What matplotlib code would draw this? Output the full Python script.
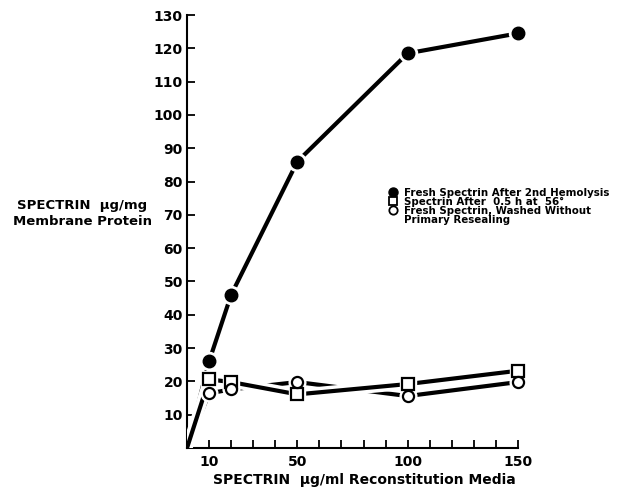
import matplotlib
matplotlib.use("Agg")
import matplotlib.pyplot as plt
import matplotlib.patheffects as pe
from matplotlib.lines import Line2D

# spectrin concentration in reconstitution media (ug/ml)
conc = [0, 10, 20, 50, 100, 150]
# spectrin bound (ug/mg membrane protein)
fresh_2nd = [0, 26, 46, 86, 118.5, 124.5]
heated_56 = [0, 20.6, 19.8, 16.1, 19.2, 23.2]
washed = [0, 16.4, 17.6, 19.8, 15.6, 19.8]

labels = ["Fresh Spectrin After 2nd Hemolysis",
          "Spectrin After  0.5 h at  56\u00b0",
          "Fresh Spectrin, Washed Without",
          "Primary Resealing"]

plt.rcParams['font.family'] = ['DejaVu Sans']

fig = plt.figure(figsize=(6.18, 4.99), dpi=100)
ax = fig.add_axes([0.3026, 0.1022, 0.5356, 0.8677])

lw = 3.0
# lines (washed first, heated on top with a white halo so crossings break the other line)
ax.plot(conc, fresh_2nd, color='black', lw=lw, solid_capstyle='butt', zorder=2)
ax.plot(conc, washed, color='black', lw=lw, solid_capstyle='butt', zorder=2)
ax.plot(conc, heated_56, color='black', lw=lw, solid_capstyle='butt', zorder=3,
        path_effects=[pe.Stroke(linewidth=lw + 5, foreground='white'), pe.Normal()])

# white halos around markers so segments stop short of them
ax.plot(conc[1:], fresh_2nd[1:], 'o', ms=13, color='white', zorder=4, clip_on=False)
ax.plot(conc[1:], heated_56[1:], 's', ms=12, color='white', zorder=4, clip_on=False)
ax.plot(conc[1:], washed[1:], 'o', ms=12, color='white', zorder=4, clip_on=False)

ax.plot(conc[1:], fresh_2nd[1:], 'o', ms=9, color='black', zorder=5, clip_on=False)
ax.plot(conc[1:], heated_56[1:], 's', ms=8, mfc='white', mec='black', mew=1.6,
        zorder=5, clip_on=False)
ax.plot(conc[1:], washed[1:], 'o', ms=8, mfc='white', mec='black', mew=1.6,
        zorder=5, clip_on=False)

ax.set_xlim(0, 150)
ax.set_ylim(0, 130)
for s in ['top', 'right']:
    ax.spines[s].set_visible(False)
for s in ['left', 'bottom']:
    ax.spines[s].set_linewidth(1.5)

ax.set_yticks(range(10, 131, 10))
ax.set_xticks([10, 50, 100, 150])
ax.set_xticks([20, 30, 40, 60, 70, 80, 90, 110, 120, 130, 140], minor=True)
ax.tick_params(axis='both', which='both', direction='in', length=5.5, width=1.3)
ax.tick_params(axis='y', pad=3)
ax.tick_params(axis='x', pad=5)
for t in ax.get_xticklabels() + ax.get_yticklabels():
    t.set_fontsize(10)
    t.set_fontweight('bold')

ax.set_xlabel("SPECTRIN  \u00b5g/ml Reconstitution Media", fontsize=10, fontweight='bold',
              va='center')
ax.xaxis.set_label_coords(0.535, -0.074)
ax.set_ylabel("SPECTRIN  \u00b5g/mg\nMembrane Protein", fontsize=9.5, fontweight='bold',
              rotation=0, ha='center', va='center', multialignment='center',
              linespacing=1.3)
ax.yaxis.set_label_coords(-0.317, 0.5416)

handles = [Line2D([], [], ls='none', marker='o', ms=6.5, color='black'),
           Line2D([], [], ls='none', marker='s', ms=6, mfc='white', mec='black', mew=1.3),
           Line2D([], [], ls='none', marker='o', ms=6, mfc='white', mec='black', mew=1.3),
           Line2D([], [], ls='none')]
leg = ax.legend(handles, labels, loc='center left', bbox_to_anchor=(0.607, 0.558),
                frameon=False, borderpad=0, borderaxespad=0, handlelength=1.0,
                handletextpad=0.6, labelspacing=-0.08,
                prop={'size': 7.4, 'weight': 'bold'})

fig.savefig("out.png", dpi=100)
